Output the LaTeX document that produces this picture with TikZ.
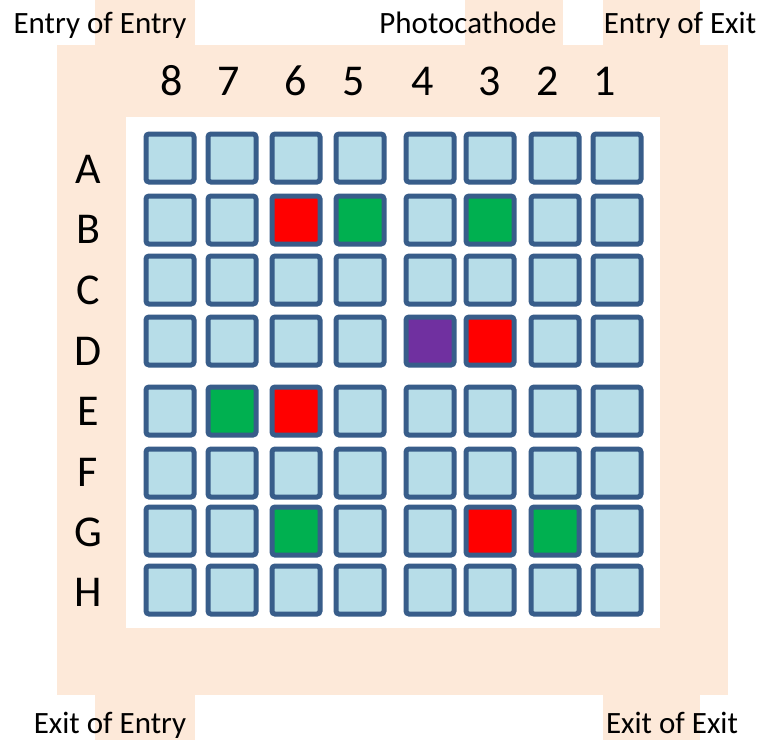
\documentclass[tikz,border=0pt]{standalone}
\usepackage{fontspec}
\setmainfont{Carlito}
\usepackage{xcolor}
\usetikzlibrary{positioning}
\definecolor{PeachBg}{HTML}{FDE9D9}
\definecolor{CellBlue}{HTML}{B7DDE8}
\definecolor{CellEdge}{HTML}{385D8A}
\definecolor{HitRed}{HTML}{FF0000}
\definecolor{HitGreen}{HTML}{00B050}
\definecolor{HitPurple}{HTML}{7030A0}

\begin{document}
\begin{tikzpicture}[x=1pt,y=-1pt,
                    tag/.style={font=\fontsize{31}{36}\selectfont, inner sep=0pt, anchor=base},
                    idx/.style={font=\fontsize{44}{50}\selectfont, inner sep=0pt, anchor=base},
                    cell/.style={draw=CellEdge, line width=5pt, rounded corners=3pt,
                                 minimum size=48pt, inner sep=0pt}]
      \useasboundingbox (0,0) rectangle (765,740);
      % background plate with its tabs
      \fill[PeachBg] (57,45) rectangle (728,695);
      \fill[PeachBg] (95,0) rectangle (195,45);
      \fill[PeachBg] (465,0) rectangle (563,45);
      \fill[PeachBg] (603,0) rectangle (700,45);
      \fill[PeachBg] (95,695) rectangle (195,740);
      \fill[PeachBg] (603,695) rectangle (700,740);
      \fill[white] (126,117) rectangle (660,628);
      % corner labels
      \node[tag] (entryEntry) at (100,33) {Entry of Entry};
      \node[tag] (photo)      at (468,33) {Photocathode};
      \node[tag] (entryExit)  at (680,33) {Entry of Exit};
      \node[tag] (exitEntry)  at (110,733) {Exit of Entry};
      \node[tag] (exitExit)   at (672,733) {Exit of Exit};
      % column numbers and row letters
      \foreach \col/\x in {8/172,7/229,6/296,5/354,4/423,3/490,2/548,1/605}
        \node[idx] (n\col) at (\x,95) {\col};
      \foreach \row/\y in {A/183,B/243,C/304,D/365,E/425,F/486,G/546,H/606}
        \node[idx] (l\row) at (88,\y) {\row};
      % pixel grid
      \foreach \row/\y/\fills in {
          A/158/{CellBlue,CellBlue,CellBlue,CellBlue,CellBlue,CellBlue,CellBlue,CellBlue},
          B/220/{CellBlue,CellBlue,HitRed,HitGreen,CellBlue,HitGreen,CellBlue,CellBlue},
          C/280/{CellBlue,CellBlue,CellBlue,CellBlue,CellBlue,CellBlue,CellBlue,CellBlue},
          D/341/{CellBlue,CellBlue,CellBlue,CellBlue,HitPurple,HitRed,CellBlue,CellBlue},
          E/411/{CellBlue,HitGreen,HitRed,CellBlue,CellBlue,CellBlue,CellBlue,CellBlue},
          F/473/{CellBlue,CellBlue,CellBlue,CellBlue,CellBlue,CellBlue,CellBlue,CellBlue},
          G/531/{CellBlue,CellBlue,HitGreen,CellBlue,CellBlue,HitRed,HitGreen,CellBlue},
          H/590/{CellBlue,CellBlue,CellBlue,CellBlue,CellBlue,CellBlue,CellBlue,CellBlue}}{
        \foreach \f [count=\i] in \fills {
          \pgfmathsetmacro{\x}{{170,232,296,360,430,490,555,617}[\i-1]}
          \pgfmathtruncatemacro{\col}{9-\i}
          \node[cell, fill=\f] (\row\col) at (\x,\y) {};
        }
      }
    \end{tikzpicture}
\end{document}
